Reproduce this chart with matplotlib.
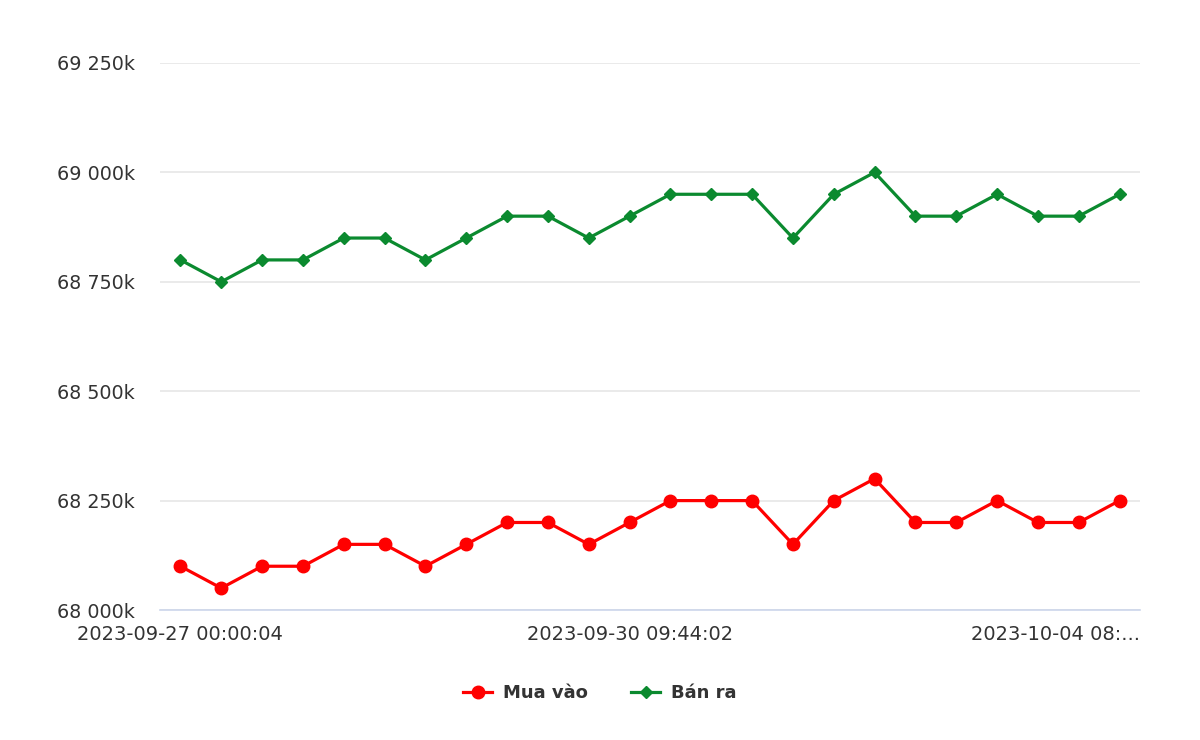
import matplotlib
matplotlib.use('Agg')
import matplotlib.pyplot as plt
import numpy as np

# Gold price data (k VND)
sell_prices = [68800, 68750, 68800, 68800, 68850, 68850, 68800, 68850, 68900, 68900,
               68850, 68900, 68950, 68950, 68950, 68850, 68950, 69000, 68900, 68900,
               68950, 68900, 68900, 68950]
buy_prices = [68100, 68050, 68100, 68100, 68150, 68150, 68100, 68150, 68200, 68200,
              68150, 68200, 68250, 68250, 68250, 68150, 68250, 68300, 68200, 68200,
              68250, 68200, 68200, 68250]
tick_idx = [0, 11, 23.5]
tick_labels = ['2023-09-27 00:00:04', '2023-09-30 09:44:02', '2023-10-04 08:...']
y_ticks = [68000, 68250, 68500, 68750, 69000, 69250]

red = '#ff0000'
green = '#0b8a2f'
text_color = '#333333'

fig = plt.figure(figsize=(12, 7.4), dpi=100)
ax = fig.add_axes([160 / 1200, 1 - 610 / 740, 980 / 1200, (610 - 63) / 740])

x = np.arange(len(sell_prices))
ax.plot(x, buy_prices, color=red, linewidth=2.3, marker='o', markersize=9,
        label='Mua vào', zorder=3)
ax.plot(x, sell_prices, color=green, linewidth=2.3, marker='D', markersize=6.5,
        label='Bán ra', zorder=3)

ax.set_xlim(-0.5, 23.5)
ax.set_ylim(68000, 69250)
ax.set_yticks(y_ticks)
ax.set_yticklabels([f'{v // 1000} {v % 1000:03d}k' for v in y_ticks],
                   fontsize=13.8, color=text_color)
ax.set_xticks(tick_idx)
ax.set_xticklabels(tick_labels, fontsize=14, color=text_color)
ax.get_xticklabels()[-1].set_horizontalalignment('right')
ax.tick_params(axis='both', length=0)
ax.tick_params(axis='y', pad=18)
ax.tick_params(axis='x', pad=11)

ax.grid(axis='y', color='#e6e6e6', linewidth=1.2)
ax.set_axisbelow(True)
for side in ['top', 'right', 'left']:
    ax.spines[side].set_visible(False)
ax.spines['bottom'].set_color('#ccd6eb')
ax.spines['bottom'].set_linewidth(1.2)

leg = fig.legend(loc='center', bbox_to_anchor=(0.5, 1 - 693 / 740), ncol=2,
                 frameon=False, prop={'size': 13, 'weight': 'bold'},
                 handlelength=1.6, columnspacing=2.4, handletextpad=0.6)
for t in leg.get_texts():
    t.set_color(text_color)

fig.savefig('out.png', dpi=100)
